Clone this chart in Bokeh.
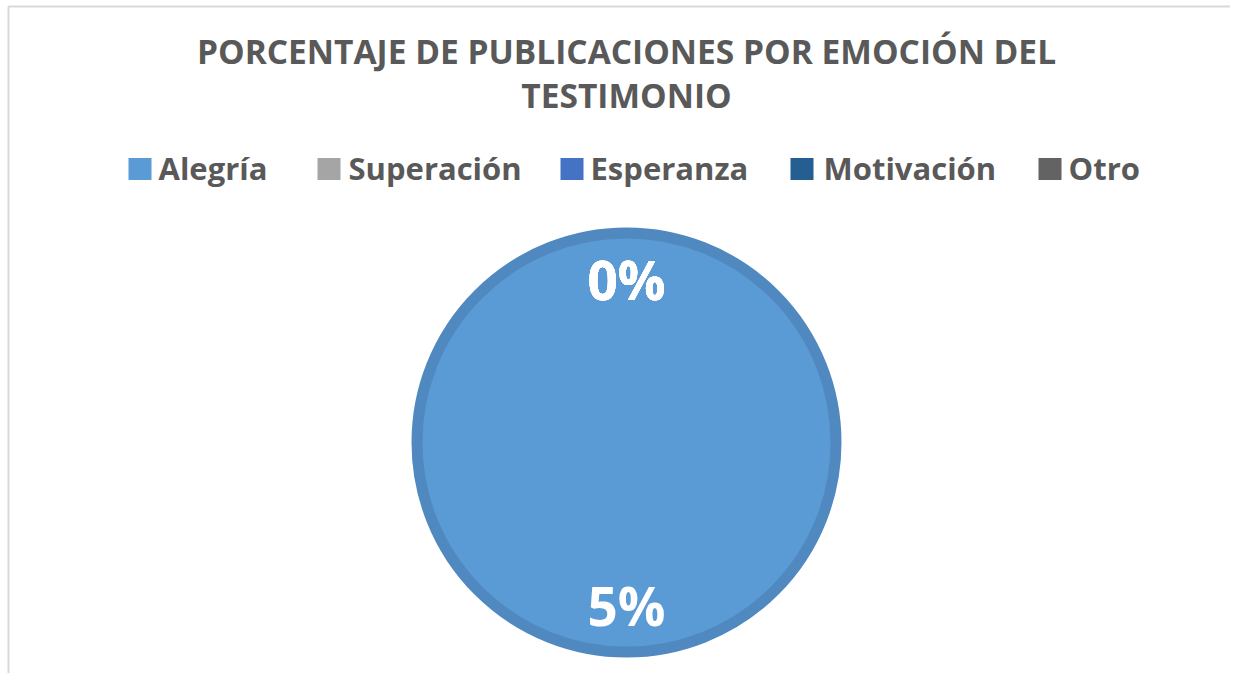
import numpy as np
from bokeh.plotting import figure
from bokeh.models import Range1d, ColumnDataSource
from bokeh.core.properties import value
from bokeh.embed import file_html
from bokeh.resources import INLINE

# ---- data ----
categories = ["Alegría", "Superación", "Esperanza", "Motivación", "Otro"]
shares = [100, 0, 0, 0, 0]
label_texts = ["5%", "0%", "0%", "0%", "0%"]
colors = ["#5b9bd5", "#a5a5a5", "#4472c4", "#255e91", "#636363"]
title_lines = ["PORCENTAJE DE PUBLICACIONES POR EMOCIÓN DEL", "TESTIMONIO"]

W, H = 1230, 673
FONT = "Open Sans"
TXT = "#595959"

p = figure(width=W, height=H, x_range=Range1d(0, W), y_range=Range1d(0, H),
           output_backend="svg", toolbar_location=None, min_border=0)
p.axis.visible = False
p.grid.visible = False
p.outline_line_color = None
p.background_fill_color = "white"
p.border_fill_color = "white"

# chart area border
p.line(x=[8, 8, W + 10], y=[-5, H - 6, H - 6], line_color="#d9d9d9", line_width=2)

# pie geometry (layout)
cx, cy, r = 626, 231, 209.5

vals = np.array(shares, dtype=float)
frac = vals / vals.sum()
ends = np.pi / 2 - 2 * np.pi * np.cumsum(frac)
starts = np.concatenate([[np.pi / 2], ends[:-1]])
mids = (starts + ends) / 2

for i in range(len(shares)):
    if shares[i] <= 0:
        continue
    if frac[i] >= 0.9999:
        p.circle(x=cx, y=cy, radius=r, fill_color=colors[i], line_color="#5089c0",
                 line_width=11)
    else:
        p.wedge(x=cx, y=cy, radius=r, start_angle=starts[i], end_angle=ends[i],
                direction="clock", fill_color=colors[i], line_color="#5089c0",
                line_width=11)

lr = 0.78 * r
lx = cx + lr * np.cos(mids)
ly = cy + lr * np.sin(mids)
lsrc = ColumnDataSource(dict(x=lx, y=ly, t=label_texts))
p.text(x="x", y="y", text="t", source=lsrc, text_font=value(FONT),
       text_font_style="bold", text_font_size="53px", text_color="white",
       text_align="center", text_baseline="middle")

# title
p.text(x=[626, 626], y=[623, 579], text=title_lines, text_font=value(FONT),
       text_font_style="bold", text_font_size="33.5px", text_color=TXT,
       text_align="center", text_baseline="alphabetic")

# legend (layout positions)
sq_x = [128, 317, 560, 790, 1038]
tx_x = [158, 348, 590, 823, 1068]
for i, c in enumerate(categories):
    p.rect(x=sq_x[i] + 11.5, y=504.5, width=23, height=22, fill_color=colors[i],
           line_color=None)
    p.text(x=[tx_x[i]], y=[506], text=[c], text_font=value(FONT),
           text_font_style="bold", text_font_size="31px", text_color=TXT,
           text_align="left", text_baseline="alphabetic")

open("out.html", "w").write(file_html(p, INLINE))
